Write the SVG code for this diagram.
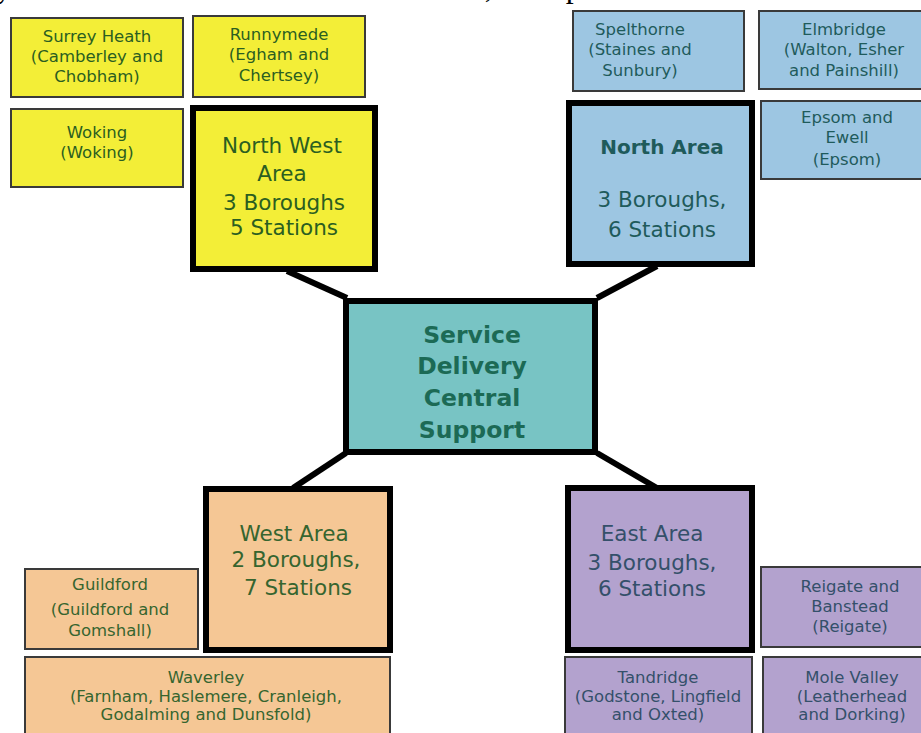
<svg xmlns="http://www.w3.org/2000/svg" width="921" height="733" viewBox="0 0 921 733">
<style>
  .cap{font-family:"Liberation Serif","Times New Roman",serif;font-size:32px;fill:#000}
  .sm{stroke:#3a3a3a;stroke-width:2}
  .area{stroke:#000;stroke-width:6}
  .yl{fill:#F3EE37}.bl{fill:#9DC6E2}.tl{fill:#78C4C4}.pc{fill:#F5C795}.pu{fill:#B3A2CE}
  text.t{font-family:"DejaVu Sans",Verdana,sans-serif;text-anchor:middle}
  .s{font-size:16.5px}.a{font-size:21.5px}.b{font-weight:bold}
  .cy{fill:#2B5E21}.cb{fill:#1F5B5B}.ct{fill:#1C6A55}.cp{fill:#36652F}.cu{fill:#34506A}
  .conn{stroke:#000;stroke-width:6;fill:none;stroke-linecap:butt}
</style>
<rect width="921" height="733" fill="#fff"/>
<text class="cap" x="-4" y="-3">y Council Local Committee structures, as depicted below:</text>

<g id="connectors">
  <line class="conn" x1="287" y1="271" x2="347" y2="298"/>
  <line class="conn" x1="657" y1="266" x2="597" y2="298"/>
  <line class="conn" x1="346" y1="453" x2="293" y2="488"/>
  <line class="conn" x1="597" y1="453" x2="657" y2="488"/>
</g>

<g id="surrey-heath">
  <rect class="sm yl" x="11" y="18" width="172" height="79"/>
  <text class="t s cy" x="97" y="42">Surrey Heath</text>
  <text class="t s cy" x="97" y="62">(Camberley and</text>
  <text class="t s cy" x="97" y="82">Chobham)</text>
</g>
<g id="runnymede">
  <rect class="sm yl" x="193" y="16" width="172" height="81"/>
  <text class="t s cy" x="279" y="40">Runnymede</text>
  <text class="t s cy" x="279" y="60">(Egham and</text>
  <text class="t s cy" x="279" y="81">Chertsey)</text>
</g>
<g id="woking">
  <rect class="sm yl" x="11" y="109" width="172" height="78"/>
  <text class="t s cy" x="97" y="138">Woking</text>
  <text class="t s cy" x="97" y="158">(Woking)</text>
</g>
<g id="north-west-area">
  <rect class="area yl" x="193" y="108" width="182" height="161"/>
  <text class="t a cy" x="282" y="153">North West</text>
  <text class="t a cy" x="282" y="181">Area</text>
  <text class="t a cy" x="284" y="210">3 Boroughs</text>
  <text class="t a cy" x="284" y="235">5 Stations</text>
</g>

<g id="spelthorne">
  <rect class="sm bl" x="573" y="11" width="171" height="80"/>
  <text class="t s cb" x="640" y="35">Spelthorne</text>
  <text class="t s cb" x="640" y="55">(Staines and</text>
  <text class="t s cb" x="640" y="76">Sunbury)</text>
</g>
<g id="elmbridge">
  <rect class="sm bl" x="759" y="11" width="170" height="78"/>
  <text class="t s cb" x="844" y="35">Elmbridge</text>
  <text class="t s cb" x="844" y="55">(Walton, Esher</text>
  <text class="t s cb" x="844" y="76">and Painshill)</text>
</g>
<g id="north-area">
  <rect class="area bl" x="569" y="103" width="183" height="161"/>
  <text class="t b cb" x="662" y="154" style="font-size:20px">North Area</text>
  <text class="t a cb" x="662" y="207">3 Boroughs,</text>
  <text class="t a cb" x="662" y="237">6 Stations</text>
</g>
<g id="epsom-ewell">
  <rect class="sm bl" x="761" y="101" width="170" height="78"/>
  <text class="t s cb" x="847" y="123">Epsom and</text>
  <text class="t s cb" x="847" y="143">Ewell</text>
  <text class="t s cb" x="847" y="165">(Epsom)</text>
</g>

<g id="service-delivery">
  <rect class="area tl" x="346" y="301" width="249" height="151"/>
  <text class="t b ct" x="472" y="343" style="font-size:23.5px">Service</text>
  <text class="t b ct" x="472" y="374" style="font-size:23.5px">Delivery</text>
  <text class="t b ct" x="472" y="406" style="font-size:23.5px">Central</text>
  <text class="t b ct" x="472" y="438" style="font-size:23.5px">Support</text>
</g>

<g id="west-area">
  <rect class="area pc" x="206" y="489" width="184" height="161"/>
  <text class="t a cp" x="294" y="541">West Area</text>
  <text class="t a cp" x="296" y="567">2 Boroughs,</text>
  <text class="t a cp" x="298" y="595">7 Stations</text>
</g>
<g id="guildford">
  <rect class="sm pc" x="25" y="569" width="173" height="80"/>
  <text class="t s cp" x="110" y="590">Guildford</text>
  <text class="t s cp" x="110" y="615">(Guildford and</text>
  <text class="t s cp" x="110" y="636">Gomshall)</text>
</g>
<g id="waverley">
  <rect class="sm pc" x="25" y="657" width="365" height="90"/>
  <text class="t s cp" x="206" y="683">Waverley</text>
  <text class="t s cp" x="206" y="702">(Farnham, Haslemere, Cranleigh,</text>
  <text class="t s cp" x="206" y="720">Godalming and Dunsfold)</text>
</g>

<g id="east-area">
  <rect class="area pu" x="568" y="488" width="184" height="162"/>
  <text class="t a cu" x="652" y="541">East Area</text>
  <text class="t a cu" x="652" y="570">3 Boroughs,</text>
  <text class="t a cu" x="652" y="596">6 Stations</text>
</g>
<g id="reigate-banstead">
  <rect class="sm pu" x="761" y="567" width="170" height="80"/>
  <text class="t s cu" x="850" y="592">Reigate and</text>
  <text class="t s cu" x="850" y="612">Banstead</text>
  <text class="t s cu" x="850" y="632">(Reigate)</text>
</g>
<g id="tandridge">
  <rect class="sm pu" x="565" y="657" width="187" height="90"/>
  <text class="t s cu" x="658" y="683">Tandridge</text>
  <text class="t s cu" x="658" y="702">(Godstone, Lingfield</text>
  <text class="t s cu" x="658" y="720">and Oxted)</text>
</g>
<g id="mole-valley">
  <rect class="sm pu" x="763" y="657" width="170" height="90"/>
  <text class="t s cu" x="852" y="683">Mole Valley</text>
  <text class="t s cu" x="852" y="702">(Leatherhead</text>
  <text class="t s cu" x="852" y="720">and Dorking)</text>
</g>
</svg>
